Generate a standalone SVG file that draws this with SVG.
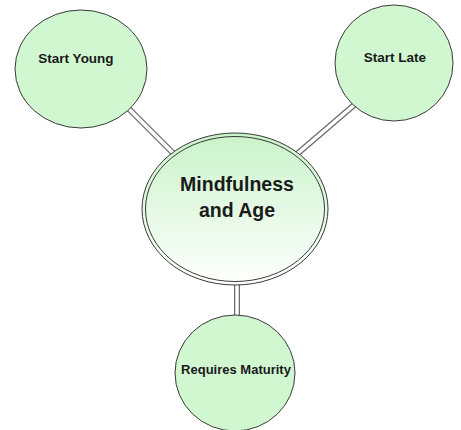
<svg xmlns="http://www.w3.org/2000/svg" width="461" height="430" viewBox="0 0 461 430">
<defs>
<linearGradient id="g" x1="0" y1="0" x2="0" y2="1">
<stop offset="0" stop-color="#c9f3c9"/>
<stop offset="1" stop-color="#ffffff"/>
</linearGradient>
</defs>
<style>
.node{fill:#d1f7d1;stroke:#3a3a3a;stroke-width:1}
.lbl{font-family:"Liberation Sans",Arial,sans-serif;font-weight:bold;fill:#1a1a1a;text-anchor:middle}
.c-out{stroke:#6a6a6a;stroke-width:6;fill:none}
.c-in{stroke:#ffffff;stroke-width:3.5;fill:none}
</style>
<rect width="461" height="430" fill="#ffffff"/>
<g id="connectors">
<line class="c-out" x1="120" y1="100" x2="180" y2="160"/>
<line class="c-in" x1="120" y1="100" x2="180" y2="160"/>
<line class="c-out" x1="360" y1="100" x2="290" y2="160"/>
<line class="c-in" x1="360" y1="100" x2="290" y2="160"/>
<line class="c-out" x1="237" y1="270" x2="237" y2="330"/>
<line class="c-in" x1="237" y1="270" x2="237" y2="330"/>
</g>
<g id="start-young">
<ellipse class="node" cx="81" cy="69" rx="66" ry="59"/>
<text class="lbl" x="76" y="63" font-size="13.5">Start Young</text>
</g>
<g id="start-late">
<ellipse class="node" cx="394" cy="63" rx="59" ry="58"/>
<text class="lbl" x="395" y="62" font-size="13.5">Start Late</text>
</g>
<g id="mindfulness">
<ellipse cx="235" cy="209" rx="93" ry="76" fill="url(#g)" stroke="#3a3a3a" stroke-width="1"/>
<ellipse cx="235" cy="209" rx="89.5" ry="72.5" fill="none" stroke="#3a3a3a" stroke-width="1"/>
<text class="lbl" x="237" y="191" font-size="19.5">Mindfulness</text>
<text class="lbl" x="237" y="217" font-size="19.5">and Age</text>
</g>
<g id="requires-maturity">
<ellipse class="node" cx="235" cy="373" rx="60" ry="58"/>
<text class="lbl" x="236" y="374" font-size="13">Requires Maturity</text>
</g>
</svg>
